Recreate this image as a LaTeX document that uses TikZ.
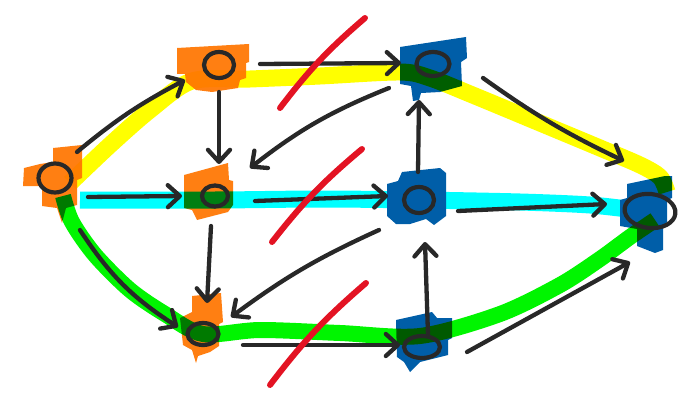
\documentclass[tikz,border=0pt]{standalone}
\usetikzlibrary{arrows.meta,shapes.geometric}
\definecolor{ink}{RGB}{40,40,40}
\definecolor{orangeblob}{RGB}{255,127,18}
\definecolor{blueblob}{RGB}{0,94,168}
\definecolor{hlyellow}{RGB}{255,255,0}
\definecolor{hlcyan}{RGB}{0,255,255}
\definecolor{hlgreen}{RGB}{0,245,0}
\definecolor{cutred}{RGB}{227,19,35}
\pgfdeclarelayer{blobs}
\pgfdeclarelayer{marks}
\pgfsetlayers{blobs,marks,main}
\begin{document}
\begin{tikzpicture}[x=1pt,y=-1pt,
  ring/.style={ellipse,draw=ink,line width=4.2pt,inner sep=0pt},
  arr/.style={draw=ink,line width=4.3pt,line cap=round,-{Straight Barb[length=12pt,width=22pt,round]}},
  hl/.style={line width=17pt,line cap=butt,line join=round},
  oblob/.style={fill=orangeblob},
  bblob/.style={fill=blueblob},
  cut/.style={draw=cutred,line width=6pt,line cap=round}]
\useasboundingbox (0,0) rectangle (694,404);

% rings (nodes)
\node[ring,minimum width=33pt,minimum height=29pt] (A) at (55,178) {};
\node[ring,minimum width=30pt,minimum height=26pt] (B) at (219,65) {};
\node[ring,minimum width=26pt,minimum height=21pt] (C) at (215,196) {};
\node[ring,minimum width=31pt,minimum height=22pt] (D) at (203,334) {};
\node[ring,minimum width=33pt,minimum height=24pt] (E) at (433,64) {};
\node[ring,minimum width=30pt,minimum height=26pt] (F) at (419,200) {};
\node[ring,minimum width=36pt,minimum height=22pt] (G) at (422,347) {};
\node[ring,minimum width=51pt,minimum height=34pt,rotate=-6] (H) at (650,211) {};

% blobs
\begin{pgfonlayer}{blobs}
\fill[oblob] (53,148) -- (82,145) -- (82,178) -- (77,180) -- (77,205) -- (66,208) -- (62,223) -- (57,208) -- (42,206) -- (42,186) -- (23,186) -- (24,168) -- (40,164) -- (53,162) -- cycle;
\fill[oblob] (177,48) -- (249,44) -- (249,62) -- (246,63) -- (246,78) -- (240,80) -- (238,88) -- (212,92) -- (196,90) -- (186,82) -- (185,74) -- (177,74) -- cycle;
\fill[oblob] (184,175) -- (228,163) -- (229,180) -- (233,181) -- (233,205) -- (228,212) -- (197,220) -- (192,210) -- (184,208) -- cycle;
\fill[oblob] (192,296) -- (221,293) -- (223,322) -- (219,324) -- (219,346) -- (210,352) -- (198,356) -- (196,363) -- (192,350) -- (183,345) -- (180,318) -- (192,312) -- cycle;
\fill[bblob] (400,47) -- (466,37) -- (467,58) -- (461,62) -- (462,86) -- (440,92) -- (421,93) -- (419,100) -- (413,101) -- (411,86) -- (400,84) -- cycle;
\fill[bblob] (387,184) -- (398,181) -- (402,172) -- (440,168) -- (446,173) -- (446,216) -- (434,225) -- (426,219) -- (410,224) -- (396,224) -- (387,216) -- cycle;
\fill[bblob] (396,320) -- (432,312) -- (437,318) -- (452,318) -- (452,338) -- (448,340) -- (448,355) -- (420,362) -- (410,372) -- (404,362) -- (397,357) -- cycle;
\fill[bblob] (627,184) -- (665,176) -- (672,176) -- (672,198) -- (667,200) -- (667,222) -- (663,226) -- (663,250) -- (655,253) -- (637,246) -- (637,229) -- (620,226) -- (620,200) -- (627,198) -- cycle;
\end{pgfonlayer}

% highlighted paths
\begin{pgfonlayer}{marks}
\begin{scope}[blend mode=multiply]
\draw[hl,draw=hlyellow] plot[smooth] coordinates {([shift={(15,5)}]A.center) (110,145) (150,110) (192,81) (250,79) (320,76) (400,72) (430,78) (475,96) (540,123) (600,148) (640,165) (660,177) (667,192)};
\draw[hl,draw=hlcyan] plot[smooth] coordinates {(80,200) (215,200) (320,199) (F.center) (520,202) (590,205) (635,210)};
\draw[hl,draw=hlgreen,line width=16pt] plot[smooth] coordinates {(63,196) (72,222) (95,255) (130,290) (165,314) (D.center) (260,330) (340,333) (420,336) (500,314) (560,285) (600,259) (630,237) (655,220)};
\end{scope}
\end{pgfonlayer}

% connectors
\draw[arr] ([shift={(22,-26)}]A.center) to[bend left=6] ([shift={(-34,15)}]B.center);
\draw[arr] ([shift={(41,-1)}]B.center) -- ([shift={(-32,-1)}]E.center);
\draw[arr] ([shift={(0,27)}]B.center) -- ([shift={(4,-32)}]C.center);
\draw[arr] ([shift={(-44,24)}]E.center) to[bend right=8] ([shift={(35,-28)}]C.center);
\draw[arr] ([shift={(33,19)}]A.center) -- ([shift={(-33,0)}]C.center);
\draw[arr] ([shift={(40,5)}]C.center) -- ([shift={(-31,-4)}]F.center);
\draw[arr] ([shift={(-1,-28)}]F.center) -- ([shift={(-14,36)}]E.center);
\draw[arr] ([shift={(50,14)}]E.center) to[bend right=5] ([shift={(-26,-50)}]H.center);
\draw[arr] ([shift={(39,11)}]F.center) -- ([shift={(-43,-7)}]H.center);
\draw[arr] ([shift={(-4,30)}]C.center) -- ([shift={(4,-31)}]D.center);
\draw[arr] ([shift={(-40,30)}]F.center) to[bend right=6] ([shift={(28,-17)}]D.center);
\draw[arr] ([shift={(25,52)}]A.center) to[bend right=12] ([shift={(-25,-7)}]D.center);
\draw[arr] ([shift={(40,11)}]D.center) -- ([shift={(-22,-2)}]G.center);
\draw[arr] ([shift={(6,-12)}]G.center) -- ([shift={(6,42)}]F.center);
\draw[arr] ([shift={(45,5)}]G.center) -- ([shift={(-20,51)}]H.center);

% cut marks
\draw[cut] (280,108) to[bend left=6] (365,18);
\draw[cut] (272,242) to[bend left=6] (362,149);
\draw[cut] (270,385) to[bend left=6] (366,283);
\end{tikzpicture}
\end{document}
